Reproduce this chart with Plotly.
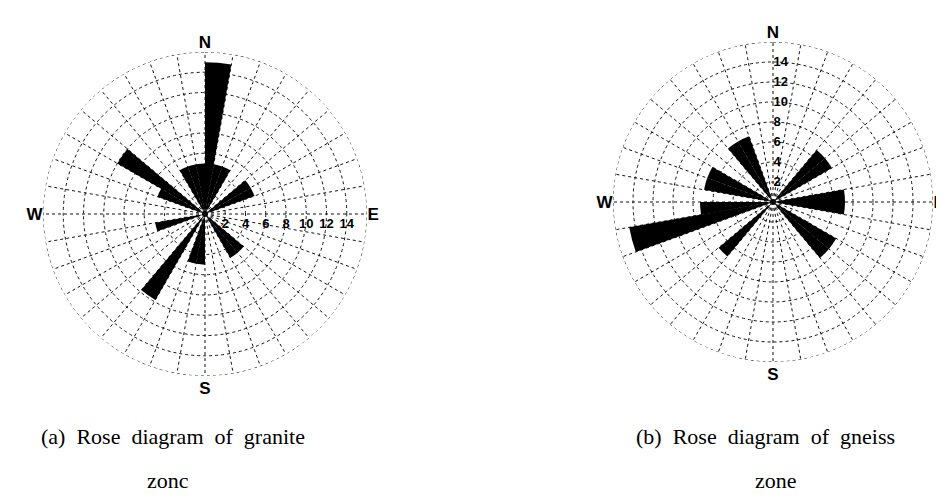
import plotly.graph_objects as go

# bin centres (deg, compass, 10 deg bins) and petal lengths
granite_theta = [5, 15, 25, 55, 65, 135, 145, 185, 195, 215, 255, 295, 305, 335, 345, 355]
granite_r = [15.0, 5.0, 5.0, 5.2, 5.2, 5.0, 5.0, 5.0, 5.0, 9.8, 5.0, 5.0, 10.0, 5.0, 5.0, 5.0]

gneiss_theta = [45, 55, 85, 95, 125, 135, 225, 255, 265, 285, 295, 325, 335]
gneiss_r = [6.8, 6.8, 7.2, 7.2, 7.3, 7.3, 7.1, 14.6, 7.3, 7.0, 7.0, 7.0, 7.0]

BIN_WIDTH = 10
RMAX = 16
radial_ticks = [2, 4, 6, 8, 10, 12, 14]
cardinals = {0: "N", 90: "E", 180: "S", 270: "W"}

sp2 = "&nbsp;&nbsp;"
captions = [(sp2.join(["(a)", "Rose", "diagram", "of", "granite"]), "zonc"),
            (sp2.join(["(b)", "Rose", "diagram", "of", "gneiss"]), "zone")]

W, H = 944, 497

grid_dash = "3px,3px"
grid_col = "#111"

fig = go.Figure()


def polar_layout(cx, cy, rad, rangle, tickangle):
    ang_vals = list(range(0, 360, 10))
    return dict(
        domain=dict(x=[(cx - rad) / W, (cx + rad) / W],
                    y=[(H - cy - rad) / H, (H - cy + rad) / H]),
        bgcolor="white",
        radialaxis=dict(range=[0, RMAX], tickvals=radial_ticks + [RMAX],
                        ticktext=["<b>%d</b>" % v for v in radial_ticks] + [""],
                        showline=False, ticks="", angle=rangle, tickangle=tickangle,
                        gridcolor=grid_col, griddash=grid_dash, gridwidth=1,
                        tickfont=dict(family="Liberation Sans", size=13, color="black")),
        angularaxis=dict(rotation=90, direction="clockwise",
                         tickvals=ang_vals,
                         ticktext=["<b>%s</b>" % cardinals[v] if v in cardinals else ""
                                   for v in ang_vals],
                         showline=False, ticks="",
                         gridcolor=grid_col, griddash=grid_dash, gridwidth=1,
                         tickfont=dict(family="Liberation Sans", size=17, color="black")),
    )


for i, (th, rr) in enumerate([(granite_theta, granite_r), (gneiss_theta, gneiss_r)]):
    sp = "polar" if i == 0 else "polar2"
    fig.add_trace(go.Barpolar(theta=th, r=rr, width=[BIN_WIDTH] * len(th),
                              marker=dict(color="black", line=dict(width=0)),
                              subplot=sp, showlegend=False))
    circ = list(range(0, 361, 2))
    fig.add_trace(go.Scatterpolar(theta=circ, r=[RMAX] * len(circ), mode="lines",
                                  line=dict(color=grid_col, width=1, dash=grid_dash),
                                  subplot=sp, showlegend=False, hoverinfo="skip"))

fig.update_layout(
    width=W, height=H,
    margin=dict(l=0, r=0, t=0, b=0),
    paper_bgcolor="white",
    polar=polar_layout(197, 206, 162, 0, 0),
    polar2=polar_layout(765, 194, 160, 90, 90),
)

cap_x = [(165, 160), (757, 768)]
for (line1, line2), (x1, x2) in zip(captions, cap_x):
    fig.add_annotation(text=line1, x=x1 / W, y=(H - 428) / H, xref="paper", yref="paper",
                       showarrow=False, xanchor="center", yanchor="middle",
                       font=dict(family="Liberation Serif", size=22, color="black"))
    fig.add_annotation(text=line2, x=x2 / W, y=(H - 472) / H, xref="paper", yref="paper",
                       showarrow=False, xanchor="center", yanchor="middle",
                       font=dict(family="Liberation Serif", size=22, color="black"))

fig.write_html("out.html")
